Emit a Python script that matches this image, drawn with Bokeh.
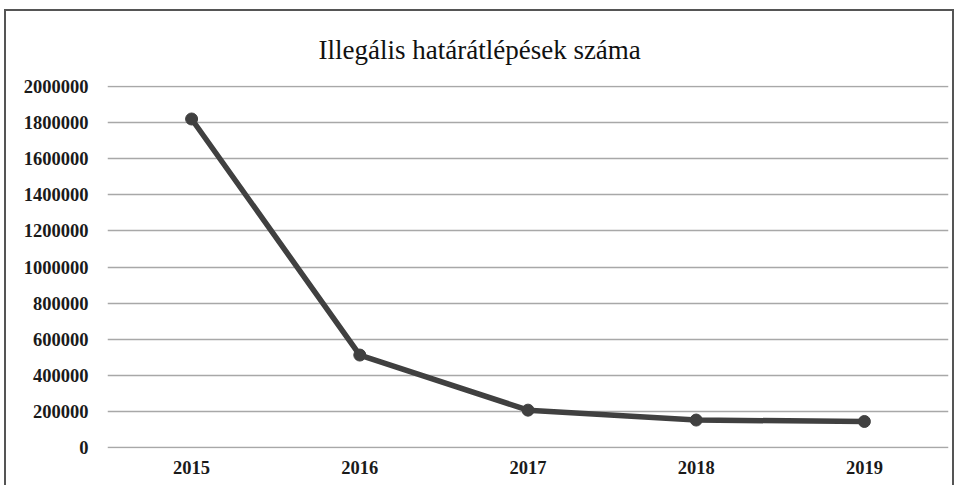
from bokeh.plotting import figure
from bokeh.models import Range1d, Title, NumeralTickFormatter, FixedTicker
from bokeh.embed import file_html
from bokeh.resources import INLINE

years = ["2015", "2016", "2017", "2018", "2019"]
crossings = [1822000, 511000, 205000, 150000, 142000]
y_ticks = [0, 200000, 400000, 600000, 800000, 1000000, 1200000, 1400000, 1600000, 1800000, 2000000]
title_text = "Illegális határátlépések száma"

p = figure(x_range=years, y_range=Range1d(-8000, 2008000), width=950, height=476,
           output_backend="svg", toolbar_location=None,
           min_border_left=101, min_border_right=8, min_border_top=74, min_border_bottom=39)
p.title = None
t = Title(text=title_text, align="left", offset=211, standoff=41, text_font="Liberation Serif",
          text_font_size="27px", text_font_style="normal", text_color="#111111")
p.add_layout(t, "above")

p.line(years, crossings, line_color="#404040", line_width=5.5)
p.scatter(years, crossings, size=12, fill_color="#404040", line_color="#404040")

p.outline_line_color = None
p.styles = {"border-top": "2px solid #555555", "border-left": "2px solid #555555",
            "border-right": "2px solid #555555", "margin-left": "4px", "margin-top": "9px"}
p.xgrid.grid_line_color = None
p.ygrid.grid_line_color = "#a8a8a8"
p.ygrid.grid_line_width = 1.6
p.yaxis.ticker = FixedTicker(ticks=y_ticks)
p.yaxis.formatter = NumeralTickFormatter(format="0")
for ax in (p.xaxis, p.yaxis):
    ax.axis_line_color = None
    ax.major_tick_line_color = None
    ax.minor_tick_line_color = None
    ax.major_label_text_font = "Liberation Serif"
    ax.major_label_text_font_size = "18.5px"
    ax.major_label_text_font_style = "bold"
    ax.major_label_text_color = "#1a1a1a"
p.yaxis.major_label_standoff = 13
p.xaxis.major_label_standoff = 6
p.x_range.range_padding = 0

open("out.html", "w").write(file_html(p, INLINE))
